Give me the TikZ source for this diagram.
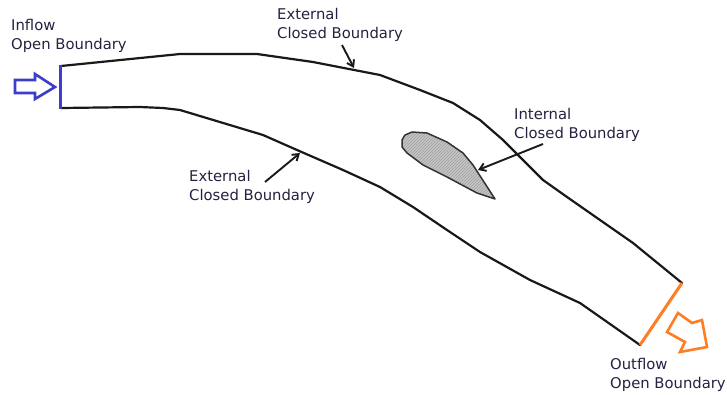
\documentclass[tikz,border=0pt]{standalone}
\usepackage{fontspec}
\setmainfont{DejaVu Sans}
\usetikzlibrary{patterns,arrows.meta}
\definecolor{txt}{RGB}{35,35,65}
\definecolor{inblue}{RGB}{60,60,205}
\definecolor{outorange}{RGB}{255,125,35}
\tikzset{
  lbl/.style={anchor=north west,inner sep=0pt,align=left,text=txt,font=\fontsize{14.8}{19}\selectfont},
  bank/.style={line width=2.2pt,line join=round,line cap=round,black!90},
  ptr/.style={line width=1.9pt,-{Straight Barb[length=6pt,width=8pt]},black!90},
  hollowarrow/.style={line width=2.6pt,line join=miter,fill=white}
}
\begin{document}
\begin{tikzpicture}[x=1pt,y=-1pt]
\useasboundingbox (0,0) rectangle (727,394);
% river banks
\draw[bank] (61,66) -- (180,54) -- (257,54) -- (313,62) -- (380,75) -- (420,90) -- (453,103) -- (480,120) -- (503,140) -- (523,160) -- (543,180) -- (567,197) -- (600,220) -- (633,243) -- (682,283);
\draw[bank] (61,108) -- (140,107) -- (163,108) -- (180,110) -- (263,135) -- (297,150) -- (343,170) -- (380,187) -- (413,207) -- (447,230) -- (480,252) -- (530,280) -- (580,303) -- (640,345);
% island
\path[fill=gray!45] (402,140) -- (405,135) -- (412,132) -- (427,133) -- (447,142) -- (463,153) -- (473,165) -- (495,199) -- (477,193) -- (447,177) -- (423,165) -- (407,153) -- (402,147) -- cycle;
\draw[line width=1.5pt,line join=round,black!80,pattern=north east lines,pattern color=gray!75] (402,140) -- (405,135) -- (412,132) -- (427,133) -- (447,142) -- (463,153) -- (473,165) -- (495,199) -- (477,193) -- (447,177) -- (423,165) -- (407,153) -- (402,147) -- cycle;
% open boundaries
\draw[inblue,line width=3pt] (60,65) -- (60,109);
\draw[outorange,line width=3pt] (682,283) -- (640,345);
% hollow flow arrows
\draw[hollowarrow,draw=inblue] (15,80) -- (35,80) -- (35,74) -- (55,87) -- (35,99) -- (35,93) -- (15,93) -- cycle;
\draw[hollowarrow,draw=outorange] (678,313) -- (692,323) -- (702,320) -- (707,347) -- (680,352) -- (685,342) -- (667,332) -- cycle;
% labels
\node[lbl] (inflow) at (11,19) {Inflow\\Open Boundary};
\node[lbl] (exttop) at (277,8) {External\\Closed Boundary};
\node[lbl] (extbot) at (189,170) {External\\Closed Boundary};
\node[lbl] (intl) at (514,108) {Internal\\Closed Boundary};
\node[lbl] (outflow) at (610,358) {Outflow\\Open Boundary};
% pointers
\coordinate (ta) at (342,45); \coordinate (tb) at (354,68);
\coordinate (ba) at (265,182); \coordinate (bb) at (300,153);
\coordinate (ia) at (543,144); \coordinate (ib) at (478,170);
\draw[ptr] (ta) -- (tb);
\draw[ptr] (ba) -- (bb);
\draw[ptr] (ia) -- (ib);
\end{tikzpicture}
\end{document}
